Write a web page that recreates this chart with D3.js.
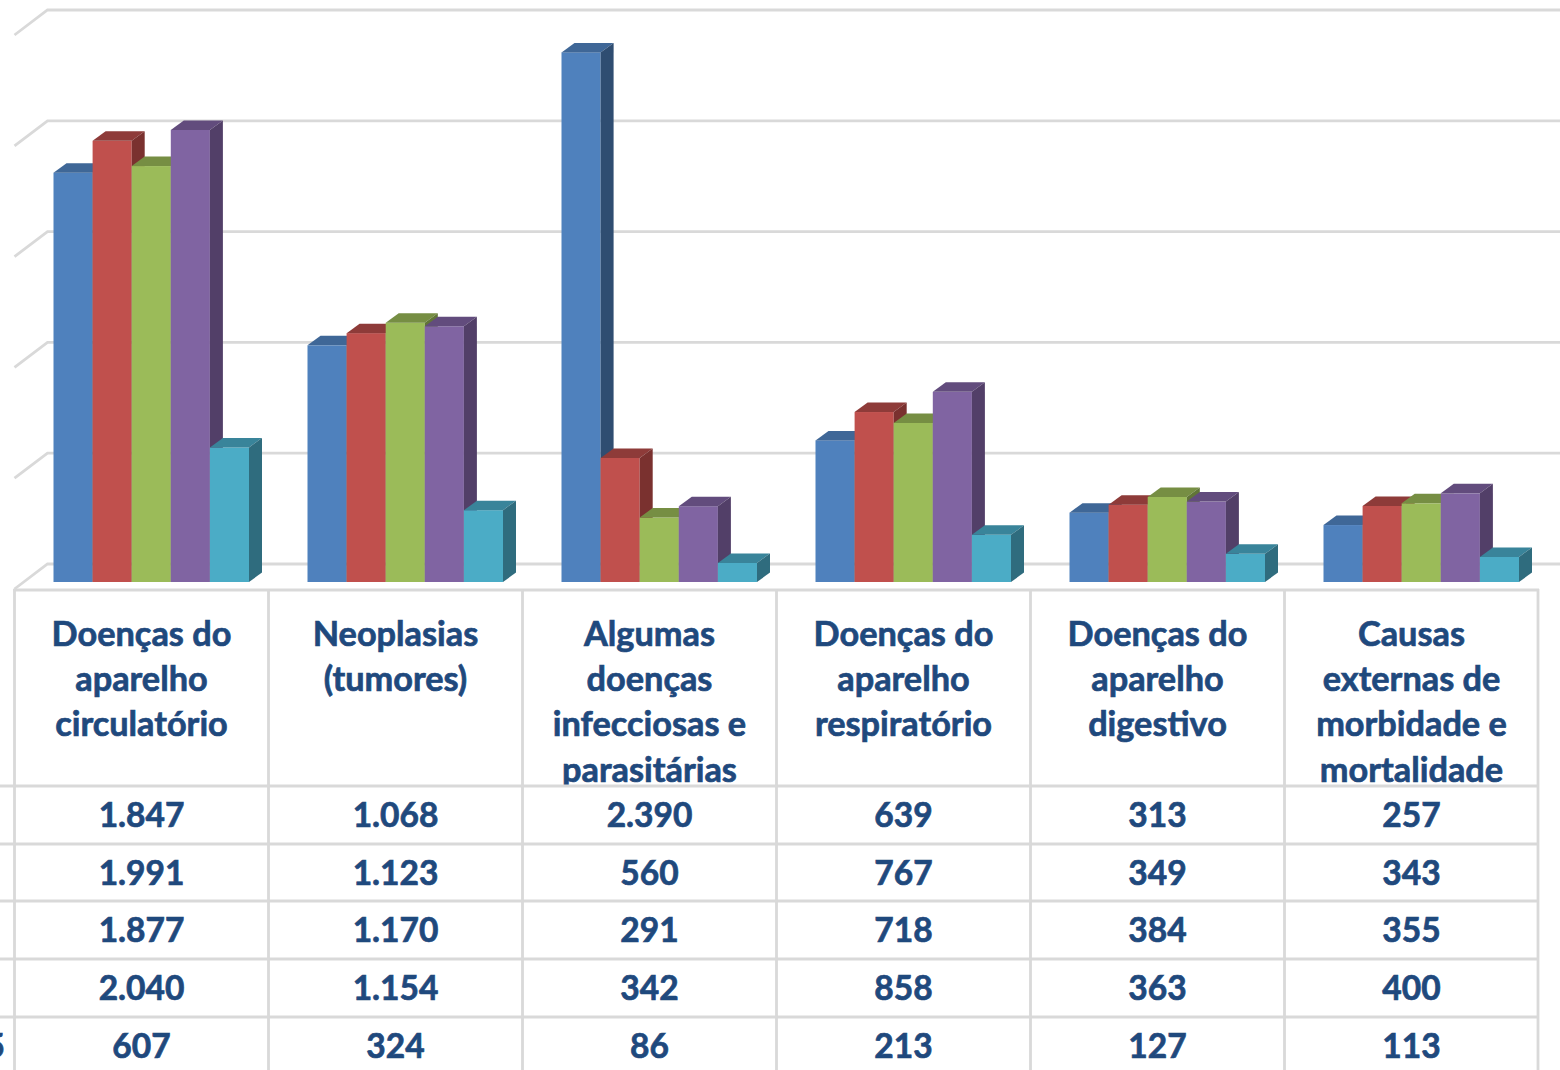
<!DOCTYPE html>
<html><head><meta charset="utf-8">
<script src="https://cdnjs.cloudflare.com/ajax/libs/d3/7.8.5/d3.min.js"></script>
<style>html,body{margin:0;padding:0;background:#fff;overflow:hidden}svg{display:block}text{font-family:Lato,"Open Sans",sans-serif;font-weight:700;fill:#1f497d;stroke:#1f497d;stroke-width:.7px}</style>
</head><body><svg id="c" width="1560" height="1070"></svg>
<script>
const categories = [
  ["Doenças do","aparelho","circulatório"],
  ["Neoplasias","(tumores)"],
  ["Algumas","doenças","infecciosas e","parasitárias"],
  ["Doenças do","aparelho","respiratório"],
  ["Doenças do","aparelho","digestivo"],
  ["Causas","externas de","morbidade e","mortalidade"]
];
const series1 = [1847,1068,2390,639,313,257];
const series2 = [1991,1123,560,767,349,343];
const series3 = [1877,1170,291,718,384,355];
const series4 = [2040,1154,342,858,363,400];
const series5 = [607,324,86,213,127,113];
const allSeries = [series1,series2,series3,series4,series5];
const rowKeys = ["","","","","5"];
const yTicks = [0,500,1000,1500,2000,2500];
const fronts = ["#4f81bd","#c0504d","#9bbb59","#8064a2","#4bacc6"];
const tops   = ["#3f6797","#8e3b39","#768e43","#624c7d","#39849a"];
const sides  = ["#2f4d71","#7a312f","#617537","#523f68","#2f6c7e"];

const svg = d3.select("#c");
const fmt = v => d3.format(",")(v).replace(/,/g,".");
const y = d3.scaleLinear().domain([0,2500]).range([582,28]);
const x = d3.scaleBand().domain(d3.range(6)).range([14.5,1538.5]);
const sx = d3.scaleBand().domain(d3.range(5)).range([39,234.5]);
const grid = "#d9d9d9";
const wall = 33, wallUp = 25;
const dx = 13, dy = 9.5;

yTicks.forEach(t => {
  const yb = y(t) - 18;
  svg.append("path").attr("fill","none").attr("stroke",grid).attr("stroke-width",2.8)
    .attr("d",`M${14.5},${yb+wallUp}L${14.5+wall},${yb}L1560,${yb}`);
});

categories.forEach((c,i) => {
  allSeries.forEach((s,k) => {
    const x0 = x(i)+sx(k), w = sx.bandwidth(), yt = y(s[i]), yb = y(0);
    const g = svg.append("g");
    g.append("rect").attr("x",x0).attr("y",yt).attr("width",w).attr("height",yb-yt).attr("fill",fronts[k]);
    g.append("path").attr("fill",tops[k]).attr("d",`M${x0},${yt}L${x0+dx},${yt-dy}L${x0+w+dx},${yt-dy}L${x0+w},${yt}Z`);
    g.append("path").attr("fill",sides[k]).attr("d",`M${x0+w},${yt}L${x0+w+dx},${yt-dy}L${x0+w+dx},${yb-dy}L${x0+w},${yb}Z`);
  });
});

const rowLines = [786,844,901,959,1017];
svg.append("rect").attr("x",0).attr("y",590).attr("width",1560).attr("height",480).attr("fill","#fff");
const defs = svg.append("defs");
categories.forEach((c,i) => {
  defs.append("clipPath").attr("id","hc"+i).append("rect")
    .attr("x",x(i)).attr("y",590).attr("width",x.bandwidth()).attr("height",195);
  const t = svg.append("text").attr("clip-path",`url(#hc${i})`).attr("text-anchor","middle").attr("font-size",34.3);
  c.forEach((line,j) => t.append("tspan").attr("x",x(i)+x.bandwidth()/2).attr("y",646+j*45.2).text(line));
});
allSeries.forEach((s,k) => {
  s.forEach((v,i) => {
    svg.append("text").attr("text-anchor","middle").attr("font-size",33.5)
      .attr("x",x(i)+x.bandwidth()/2).attr("y",rowLines[k]+40.5).text(fmt(v));
  });
  if (rowKeys[k]) svg.append("text").attr("text-anchor","end").attr("font-size",33.5)
    .attr("x",5).attr("y",rowLines[k]+40.5).text(rowKeys[k]);
});
svg.append("line").attr("x1",13.5).attr("x2",1539).attr("y1",590).attr("y2",590).attr("stroke",grid).attr("stroke-width",2.8);
rowLines.forEach(yy => svg.append("line").attr("x1",0).attr("x2",1539).attr("y1",yy).attr("y2",yy).attr("stroke",grid).attr("stroke-width",2.8));
d3.range(7).forEach(i => {
  const xx = i<6 ? x(i) : 1538;
  svg.append("line").attr("x1",xx).attr("x2",xx).attr("y1",589).attr("y2",1070).attr("stroke",grid).attr("stroke-width",2.8);
});
</script></body></html>
